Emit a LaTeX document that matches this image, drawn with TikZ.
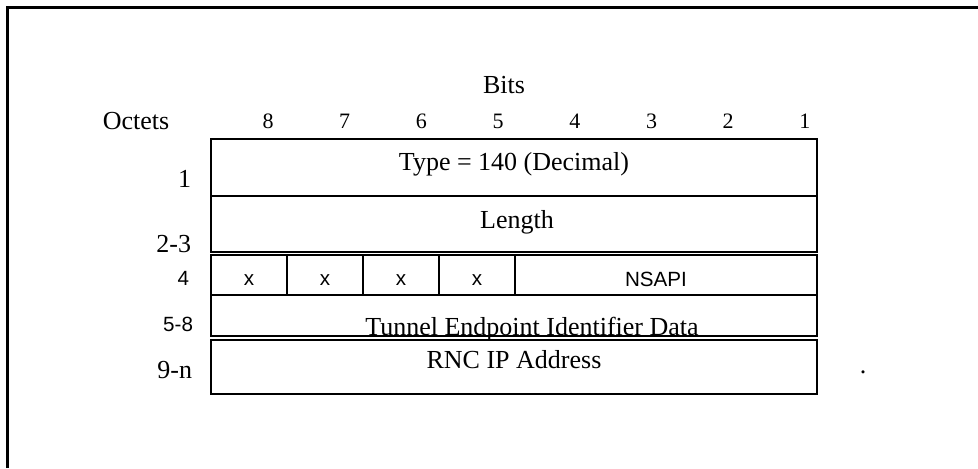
\documentclass[tikz,border=0pt]{standalone}
\usepackage{fontspec}
\setmainfont{Liberation Serif}
\setsansfont{Liberation Sans}
\usetikzlibrary{positioning}

\begin{document}
\begin{tikzpicture}[
                            x=0.5pt,
                            y=-0.5pt,
                            font=\fontsize{13}{15}\selectfont,
                            inner sep=0pt,
                            outer sep=0pt,
                            line width=1pt
                        ]
                        \tikzstyle{field}=[draw=black,line width=1pt,minimum width=303pt]
                        \tikzstyle{cell}=[draw=black,line width=1pt,minimum width=38pt,minimum height=20.25pt]
                        \tikzstyle{txt}=[anchor=base]
                        \tikzstyle{sans}=[anchor=base,font=\sffamily\fontsize{10.3}{12}\selectfont]
                        \tikzstyle{octet}=[anchor=base east]

                        \useasboundingbox (0,0) rectangle (978,468);
                        \draw[line width=1.5pt] (7,468) -- (7,7) -- (978,7);

                        % header
                        \node[txt]   (bits)   at (504,93)  {Bits};
                        \node[txt]   (octets) at (136,129) {Octets};
                        \foreach \b in {8,...,1}
                            \node[txt,font=\fontsize{11}{13}\selectfont] (bit\b) at ({268+(8-\b)*76.7},128) {\b};

                        % boxes
                        \node[field,minimum height=28.5pt,anchor=north west] (type) at (211,139) {};
                        \node[field,minimum height=28pt]    (len)  [below=0pt of type] {};
                        \node[cell,anchor=north west]        (x8)   at (211,254.5) {};
                        \node[cell]                          (x7)   [right=0pt of x8] {};
                        \node[cell]                          (x6)   [right=0pt of x7] {};
                        \node[cell]                          (x5)   [right=0pt of x6] {};
                        \node[cell,minimum width=151pt]      (nsapi) [right=0pt of x5] {};
                        \node[field,minimum height=20.5pt,anchor=north west] (teid) at (211,295) {};
                        \node[field,minimum height=27.25pt] (rnc)  [below=1.75pt of teid] {};

                        % texts
                        \node[txt]  (typetxt)  at (514,170) {Type = 140 (Decimal)};
                        \node[txt]  (lentxt)   at (517,228) {Length};
                        \foreach \b in {8,7,6,5}
                            \node[sans] (x\b txt) at ([yshift=-5.5pt]x\b.center) {x};
                        \node[sans] (nsapitxt) at (656,286) {NSAPI};
                        \node[txt]  (teidtxt)  at (532,335) {Tunnel Endpoint Identifier Data};
                        \node[txt]  (rnctxt)   at (514,368) {RNC IP Address};
                        \node[txt]  (dot)      at (863,373) {.};

                        % octets
                        \node[octet] (o1)  at (191,187) {1};
                        \node[octet] (o2)  at (191,252) {2-3};
                        \node[octet,font=\sffamily\fontsize{10.3}{12}\selectfont] (o4) at (189,285) {4};
                        \node[octet,font=\sffamily\fontsize{10.3}{12}\selectfont] (o5) at (193,331) {5-8};
                        \node[octet] (o9)  at (192,378) {9-n};
                    \end{tikzpicture}
\end{document}
